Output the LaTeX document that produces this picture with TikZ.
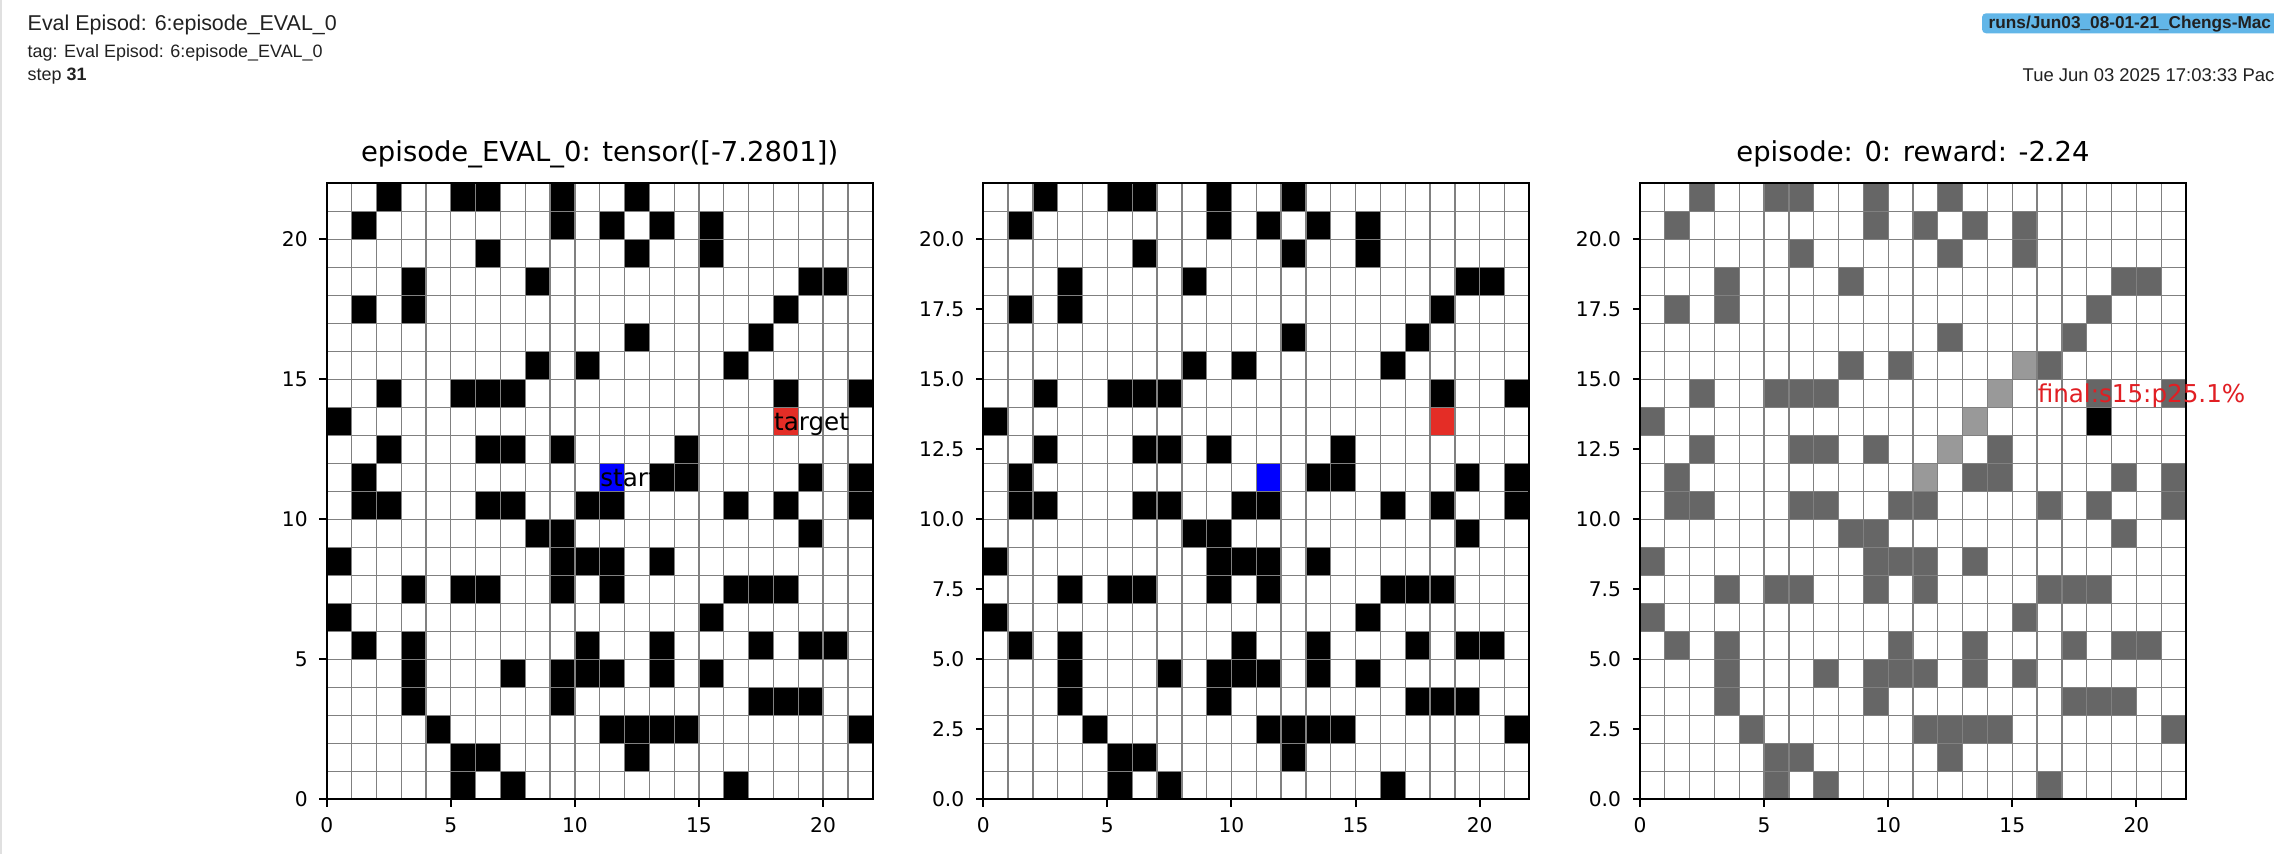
\documentclass[tikz,border=0pt]{standalone}
\usepackage{fontspec}
\setmainfont{DejaVu Sans}
\newfontfamily\tbfont{Liberation Sans}
\usetikzlibrary{positioning}
\definecolor{tgtred}{RGB}{228,45,38}
\definecolor{finalred}{RGB}{225,30,35}
\definecolor{obsgray}{RGB}{102,102,102}
\definecolor{pathgray}{RGB}{153,153,153}
\definecolor{gridgray}{RGB}{128,128,128}
\definecolor{badgeblue}{RGB}{98,182,232}
\definecolor{tbtext}{RGB}{33,33,33}
\begin{document}
\begin{tikzpicture}[
    cellline/.style={draw=gridgray, line width=0.37pt},
    spine/.style={draw=black, line width=0.57pt},
    tickmark/.style={draw=black, line width=0.57pt},
    ticklbl/.style={inner sep=0pt, font=\fontsize{5.75}{6}\selectfont},
    plottitle/.style={inner sep=0pt, anchor=base, font=\fontsize{7.8}{8}\selectfont},
    annot/.style={inner sep=0pt, anchor=base west, font=\fontsize{7}{8}\selectfont},
    hdr/.style={inner sep=0pt, anchor=base west, text=tbtext}]
    \useasboundingbox (0,0) rectangle (22.74,8.54);
    \clip (0,0) rectangle (22.74,8.54);
    \fill[white] (0,0) rectangle (22.74,8.54);
    \draw[line width=0.7pt, draw=black!12] (0.012,0) -- (0.012,8.54);

    \node[hdr, font=\tbfont\fontsize{6.1}{7}\selectfont] (head) at (0.27,8.233) {Eval Episod: 6:episode\_EVAL\_0};
    \node[hdr, font=\tbfont\fontsize{5.1}{6}\selectfont] (tag) at (0.27,7.967) {tag: Eval Episod: 6:episode\_EVAL\_0};
    \node[hdr, font=\tbfont\fontsize{5.1}{6}\selectfont] (stepno) at (0.27,7.73) {step \textbf{31}};
    \fill[badgeblue, rounded corners=0.04cm] (19.82,8.207) rectangle (23.2,8.407);
    \node[hdr, font=\tbfont\bfseries\fontsize{4.9}{6}\selectfont] (run) at (19.88,8.257) {runs/Jun03\_08-01-21\_Chengs-Mac};
    \node[hdr, font=\tbfont\fontsize{5.25}{6}\selectfont] (stamp) at (20.22,7.723) {Tue Jun 03 2025 17:03:33 Pac};

    \foreach \xs/\obs [count=\p] in {3.267/black, 9.833/black, 16.4/obsgray} {
        \begin{scope}[xshift=\xs cm, yshift=0.547cm, x=0.24818cm, y=0.28cm]
            \foreach \r/\cs in {21/{2,5,6,9,12},20/{1,9,11,13,15},19/{6,12,15},18/{3,8,19,20},17/{1,3,18},16/{12,17},15/{8,10,16},14/{2,5,6,7,18,21},13/{0},12/{2,6,7,9,14},11/{1,13,14,19,21},10/{1,2,6,7,10,11,16,18,21},9/{8,9,19},8/{0,9,10,11,13},7/{3,5,6,9,11,16,17,18},6/{0,15},5/{1,3,10,13,17,19,20},4/{3,7,9,10,11,13,15},3/{3,9,17,18,19},2/{4,11,12,13,14,21},1/{5,6,12},0/{5,7,16}} {
                \foreach \c in \cs {\fill[\obs] (\c,\r) rectangle ++(1,1);}
            }
            \ifnum\p<3
                \fill[tgtred] (18,13) rectangle ++(1,1);
                \fill[blue] (11,11) rectangle ++(1,1);
            \else
                \foreach \k in {11,...,15} {\fill[pathgray] (\k,\k) rectangle ++(1,1);}
                \fill[black] (18,13) rectangle ++(1,1);
            \fi
            \foreach \k in {1,...,21} {
                \draw[cellline] (\k,0) -- (\k,22);
                \draw[cellline] (0,\k) -- (22,\k);
            }
            \draw[spine] (0,0) rectangle (22,22);
            \foreach \k in {0,5,...,20} {
                \draw[tickmark] (\k,0) -- ++(0,-2.08pt);
                \node[ticklbl, anchor=base] (x\p-\k) at ([yshift=-9.5pt]\k,0) {\k};
            }
            \ifnum\p=1
                \foreach \k in {0,5,...,20} {
                    \draw[tickmark] (0,\k) -- ++(-2.08pt,0);
                    \node[ticklbl, anchor=east] (y\p-\k) at ([xshift=-5.23pt]0,\k) {\k};
                }
            \else
                \foreach \v [count=\i] in {0.0,2.5,5.0,7.5,10.0,12.5,15.0,17.5,20.0} {
                    \draw[tickmark] (0,\v) -- ++(-2.08pt,0);
                    \node[ticklbl, anchor=east] (y\p-\i) at ([xshift=-5.23pt]0,\v) {\v};
                }
            \fi
            \ifcase\p\or
                \node[plottitle] (title1) at ([yshift=6.1pt]11,22) {episode\_EVAL\_0: tensor([-7.2801])};
                \node[annot] (tgt) at ([yshift=1.5pt]18,13) {target};
                \node[annot] (src) at ([yshift=1.5pt]11,11) {start};
            \or
            \or
                \node[plottitle] (title3) at ([yshift=6.1pt]11,22) {episode: 0: reward: -2.24};
                \node[annot, text=finalred] (final) at ([yshift=1.5pt]16,14) {final:s15:p25.1\%};
            \fi
        \end{scope}
    }
\end{tikzpicture}
\end{document}
